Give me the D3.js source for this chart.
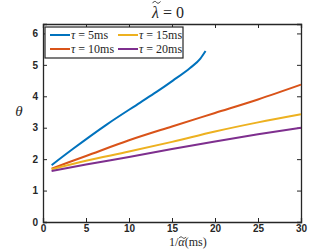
<!DOCTYPE html>
<html>
<head>
<meta charset="utf-8">
<script src="https://cdn.jsdelivr.net/npm/d3@7"></script>
<style>
  body { margin: 0; background: #fff; }
  svg text { fill: #262626; }
</style>
</head>
<body>
<div id="chart"></div>
<script>
const xTicks = [0, 5, 10, 15, 20, 25, 30];
const yTicks = [0, 1, 2, 3, 4, 5, 6];
const seriesNames = ["5ms", "10ms", "15ms", "20ms"];
const colors = ["#0072BD", "#D95319", "#EDB120", "#7E2F8E"];

const tau5x = [1, 3.5, 7.4, 11.3, 13.2, 15.1, 17.1, 18.3, 18.9];
const tau5y = [1.81, 2.33, 3.1, 3.8, 4.14, 4.5, 4.9, 5.2, 5.44];
const tau10x = [1, 5, 10, 15, 20, 25, 30];
const tau10y = [1.7, 2.1, 2.6, 3.04, 3.47, 3.9, 4.37];
const tau15x = [1, 5, 10, 15, 20, 25, 30];
const tau15y = [1.68, 1.95, 2.24, 2.55, 2.88, 3.17, 3.43];
const tau20x = [1, 5, 10, 15, 20, 25, 30];
const tau20y = [1.62, 1.83, 2.07, 2.32, 2.56, 2.79, 3.0];

const series = [
  tau5x.map((v, i) => [v, tau5y[i]]),
  tau10x.map((v, i) => [v, tau10y[i]]),
  tau15x.map((v, i) => [v, tau15y[i]]),
  tau20x.map((v, i) => [v, tau20y[i]])
];

const width = 332, height = 249;
const margin = {top: 24, right: 31, bottom: 27, left: 43};
const w = width - margin.left - margin.right;
const h = height - margin.top - margin.bottom;

const svg = d3.select("#chart").append("svg")
    .attr("width", width)
    .attr("height", height);

const g = svg.append("g")
    .attr("transform", `translate(${margin.left},${margin.top})`);

const x = d3.scaleLinear().domain([0, 30]).range([0, w]);
const y = d3.scaleLinear().domain([0, 6.3]).range([h, 0]);

const tickFont = "bold 10px 'Liberation Sans', Arial, sans-serif";

// axes with inward ticks, box on
g.append("g")
    .attr("transform", `translate(0,${h})`)
    .call(d3.axisBottom(x).tickValues(xTicks).tickSize(-4).tickPadding(3).tickFormat(d3.format("d")));
g.append("g")
    .call(d3.axisLeft(y).tickValues(yTicks).tickSize(-4).tickPadding(5).tickFormat(d3.format("d")));
g.append("g")
    .call(d3.axisTop(x).tickValues(xTicks).tickSize(-4).tickFormat(""));
g.append("g")
    .attr("transform", `translate(${w},0)`)
    .call(d3.axisRight(y).tickValues(yTicks).tickSize(-4).tickFormat(""));

g.selectAll(".domain").attr("stroke", "#262626").attr("stroke-width", 1.3);
g.selectAll(".tick line").attr("stroke", "#262626");
g.selectAll(".tick text").style("font", tickFont).attr("fill", "#262626");

const line = d3.line()
    .x(d => x(d[0]))
    .y(d => y(d[1]))
    .curve(d3.curveMonotoneX);

g.selectAll(".series")
    .data(series)
    .enter()
    .append("path")
    .attr("class", "series")
    .attr("d", line)
    .attr("fill", "none")
    .attr("stroke", (d, i) => colors[i])
    .attr("stroke-width", 2);

// legend, MATLAB column-major order
const mathFont = "'Liberation Serif', 'DejaVu Serif', serif";
const leg = g.append("g").attr("transform", "translate(2,3)");
leg.append("rect")
    .attr("width", 138)
    .attr("height", 31)
    .attr("fill", "#fff")
    .attr("stroke", "#262626")
    .attr("stroke-width", 1.2);

seriesNames.forEach((name, i) => {
  const gx = [5, 5, 73, 73][i];
  const gy = [8, 22, 8, 22][i];
  leg.append("line")
      .attr("x1", gx).attr("x2", gx + 20)
      .attr("y1", gy).attr("y2", gy)
      .attr("stroke", colors[i])
      .attr("stroke-width", 2);
  const t = leg.append("text")
      .attr("x", gx + 21)
      .attr("y", gy + 4)
      .style("font-family", mathFont)
      .style("font-size", "12px");
  t.append("tspan").style("font-style", "italic").text("τ");
  t.append("tspan").text(" = " + name);
});

// text with a drawn tilde over one part
function tildeText(parent, left, base, size, parts) {
  const t = parent.append("text")
      .attr("x", left)
      .attr("y", base)
      .style("font-family", mathFont)
      .style("font-size", size + "px");
  const spans = parts.map(p => t.append("tspan")
      .style("font-style", p.italic ? "italic" : "normal")
      .text(p.s));
  let off = left;
  parts.forEach((p, i) => {
    const len = spans[i].node().getComputedTextLength();
    if (p.tilde) {
      const x0 = off + 0.5, x1 = off + len + 1.5;
      const ty = base - size * p.tildeH;
      const a = size * 0.09;
      const q = (x1 - x0) / 4;
      parent.append("path")
          .attr("d", `M${x0},${ty + a * 0.6} C${x0 + q},${ty - a * 1.6} ${x0 + 2 * q},${ty - a * 0.2} ${(x0 + x1) / 2},${ty}
                      S${x1 - q},${ty + a * 1.6} ${x1},${ty - a * 0.6}`)
          .attr("fill", "none")
          .attr("stroke", "#262626")
          .attr("stroke-width", 0.9);
    }
    off += len;
  });
}

tildeText(svg, 152, 18, 16, [
  {s: "λ", italic: true, tilde: true, tildeH: 0.98},
  {s: " = 0"}
]);

svg.append("text")
    .attr("x", 19)
    .attr("y", 116)
    .attr("text-anchor", "middle")
    .style("font-family", mathFont)
    .style("font-style", "italic")
    .style("font-size", "15px")
    .text("θ");

tildeText(svg, 169, 246, 12, [
  {s: "1/"},
  {s: "α", italic: true, tilde: true, tildeH: 0.7},
  {s: "(ms)"}
]);
</script>
</body>
</html>
